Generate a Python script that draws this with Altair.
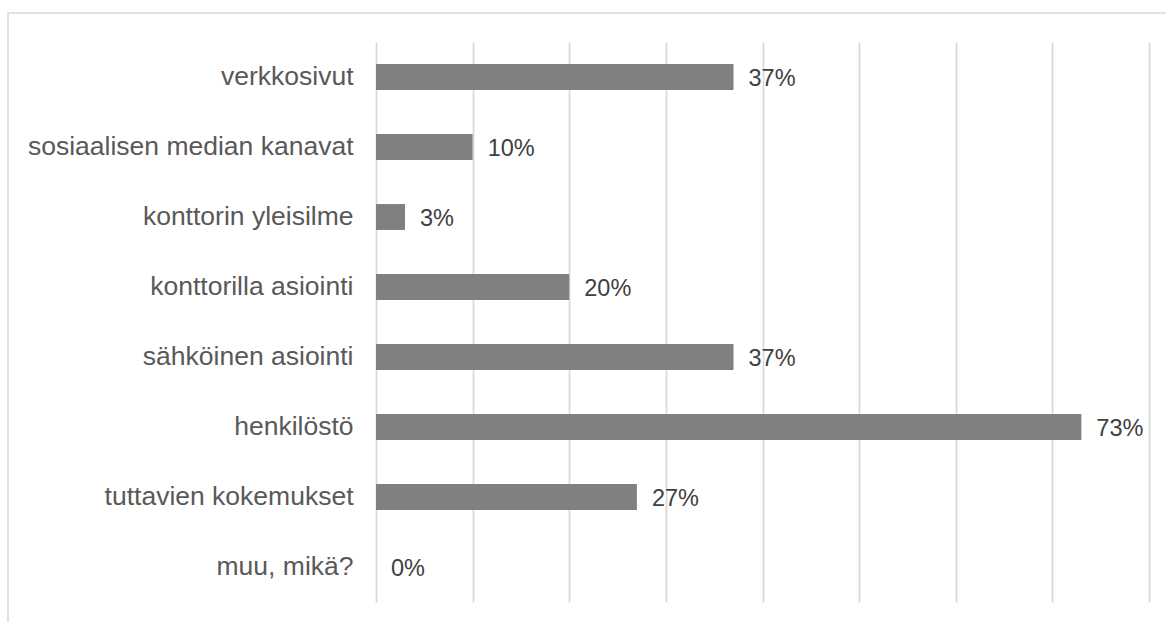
import altair as alt
import pandas as pd

categories = ["verkkosivut", "sosiaalisen median kanavat", "konttorin yleisilme",
              "konttorilla asiointi", "sähköinen asiointi", "henkilöstö",
              "tuttavien kokemukset", "muu, mikä?"]
values = [0.37, 0.10, 0.03, 0.20, 0.37, 0.73, 0.27, 0.0]
labels = ["37%", "10%", "3%", "20%", "37%", "73%", "27%", "0%"]

df = pd.DataFrame({"cat": categories, "val": values, "lab": labels})

W, H = 773, 560
FONT = "Liberation Sans"

x = alt.X("val:Q", scale=alt.Scale(domain=[0, 0.8], nice=False),
          axis=alt.Axis(values=[0, 0.1, 0.2, 0.3, 0.4, 0.5, 0.6, 0.7, 0.8],
                        grid=True, gridColor="#d9d9d9", gridWidth=1.75,
                        labels=False, ticks=False, domain=False, title=None))
y = alt.Y("cat:N", sort=categories,
          scale=alt.Scale(paddingInner=0.63, paddingOuter=0.315),
          axis=alt.Axis(title=None, ticks=False, domain=False, labelFont=FONT,
                        labelFontSize=26.5, labelColor="#595959", labelPadding=23,
                        labelLimit=400))

frame = alt.Chart(pd.DataFrame({"a": [0]})).mark_rect(
    fill=None, stroke="#d9d9d9", strokeWidth=1.5, clip=False
).encode(x=alt.value(-368), x2=alt.value(W + 60), y=alt.value(-29), y2=alt.value(H + 60))

bars = alt.Chart(df).mark_bar(color="#808080").encode(x=x, y=y)
text = alt.Chart(df).mark_text(align="left", baseline="middle", dx=15, dy=2,
                               font=FONT, fontSize=23.5, color="#404040").encode(
    x=alt.X("val:Q"), y=alt.Y("cat:N", sort=categories), text="lab:N")

chart = alt.layer(frame, bars, text).properties(
    width=W, height=H, padding={"left": 376, "top": 42, "right": 17, "bottom": 20},
    autosize=alt.AutoSizeParams(type="none")
).configure(background="white", view=alt.ViewConfig(stroke=None, strokeWidth=0))

chart.save("out.html", embed_options={"renderer": "svg", "actions": False})
